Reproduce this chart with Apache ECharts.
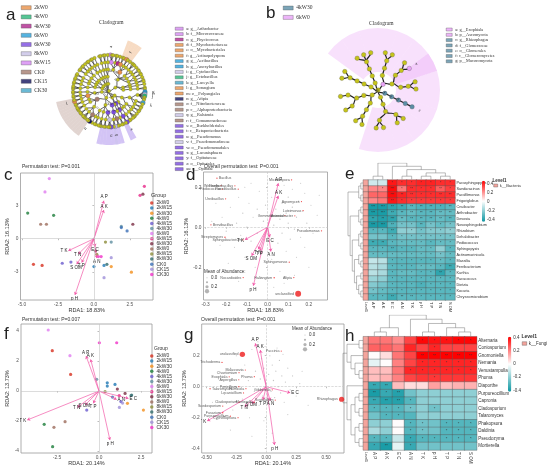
<!DOCTYPE html>
<html>
<head>
<meta charset="utf-8">
<script src="https://cdn.jsdelivr.net/npm/echarts@6/dist/echarts.min.js"></script>
<style>
html, body { margin: 0; padding: 0; background: #fff; }
#main { width: 550px; height: 469px; }
</style>
</head>
<body>
<div id="main"></div>
<script>
var SANS = 'Liberation Sans, Arial, sans-serif';
var SERIF = 'Liberation Serif, DejaVu Serif, serif';

// ---- RDA panels (c, d, f, g) ----
var groups = ['2kW0', '2kW15', '2kW30', '4kW0', '4kW15', '4kW30', '6kW0', '6kW15', '6kW30',
  '8kW0', '8kW15', '8kW30', 'CK0', 'CK15', 'CK30'];
var groupColors = ['#d7301f', '#1f78b4', '#f28e1c', '#1b7d3a', '#6a5acd', '#5f8fa0', '#e07cf0', '#e7298a',
  '#7b2d43', '#9c6b5b', '#8c8c3a', '#2f6b6b', '#3b6fb6', '#9e8fd8', '#f032c8'];

// [group index, RDA1, RDA2]
var sitesC = [
  [0, -4.2, -2.3], [0, -3.6, -2.4], [1, 0.0, -2.5], [1, 0.7, -2.4], [2, 1.2, -2.5], [2, 2.6, -3.0],
  [3, -4.6, 2.3], [3, -2.8, 2.1], [4, -2.2, -2.2], [4, -1.6, -2.1], [5, 1.2, -0.3], [5, 1.9, 1.1],
  [6, -3.1, 5.4], [6, -3.4, 4.2], [7, 3.5, 4.7], [7, 3.2, 3.9], [8, 3.4, 4.0], [8, 2.7, 1.3], [8, 0.1, -1.1],
  [9, -3.7, 1.3], [9, -3.3, 1.3], [10, 0.8, -0.3], [10, 0.2, -1.4], [11, 0.9, -2.3],
  [12, 2.3, 0.7], [12, 1.9, 1.0], [13, 1.2, -1.7], [13, 0.7, -3.5], [14, 0.3, -1.6], [14, 0.5, -1.6]
];
var sitesF = [
  [0, -2.78, 2.69], [0, -1.69, 1.11], [1, 0.49, 0.55], [1, 0.49, 0.33], [1, 0.95, 0.44],
  [2, 1.69, -0.82], [2, 2.64, -1.27], [3, -3.26, -2.22], [3, -2.76, -3.71], [4, -0.73, -1.27], [4, 1.3, -0.7],
  [5, -0.14, 0.78], [5, 1.9, -0.3], [6, -3.02, 4.07], [6, -1.73, 2.36], [7, 1.2, -0.3],
  [8, 1.09, 0.13], [8, 1.55, -0.16], [9, -2.68, -2.42], [9, -2.02, -2.04], [10, 0.36, -0.04],
  [11, 1.94, -0.27], [12, 0.8, -0.4], [13, 1.21, -1.09], [13, 1.4, -0.8], [14, 0.02, 3.22], [14, 1.05, 3.22]
];

var factors = ['A P', 'A K', 'T K', 'T N', 'T P', 'S OM', 'p H', 'E C', 'A N'];
var arrowsC = [[0.69, 3.42], [0.69, 2.58], [-1.78, -1.08], [-1.09, -1.38], [-0.85, -2.13], [-1.2, -2.28], [-1.32, -5.04], [0.07, -0.72], [0.19, -1.74]];
var arrowsD = [[0.052, 0.22], [0.052, 0.157], [-0.11, -0.063], [-0.045, -0.11], [-0.037, -0.118], [-0.077, -0.143], [-0.069, -0.293], [0.011, -0.05], [0.016, -0.122]];
var arrowsF = [[-0.77, 2.33], [-0.5, 2.11], [-4.27, -1.93], [-1.29, -1.09], [-0.34, -0.82], [-0.83, -0.93], [0.65, -3.27], [1.75, -0.49], [1.05, -0.56]];
var arrowsG = [[-0.092, 0.28], [-0.05, 0.237], [-0.494, -0.221], [-0.18, -0.129], [-0.028, -0.086], [-0.12, -0.11], [0.069, -0.376], [0.2, -0.039], [0.033, -0.09]];

// background taxa [RDA1, RDA2, mean abundance]
var otusD = [
  [-0.25, 0.12, 0.01], [-0.22, 0.05, 0.01], [-0.2, -0.02, 0.02], [-0.18, 0.1, 0.01], [-0.16, -0.1, 0.01], [-0.15, 0.02, 0.02],
  [-0.14, 0.15, 0.01], [-0.13, -0.04, 0.01], [-0.12, 0.07, 0.02], [-0.11, -0.15, 0.01], [-0.1, 0.0, 0.03], [-0.09, 0.12, 0.01],
  [-0.08, -0.07, 0.02], [-0.07, 0.05, 0.01], [-0.06, -0.2, 0.01], [-0.05, 0.09, 0.02], [-0.05, -0.03, 0.03], [-0.04, 0.18, 0.01],
  [-0.03, -0.12, 0.02], [-0.02, 0.03, 0.04], [-0.01, 0.11, 0.02], [0, -0.06, 0.03], [0.01, 0.06, 0.02], [0.02, 0.15, 0.01],
  [0.02, -0.16, 0.01], [0.03, 0.01, 0.03], [0.04, 0.09, 0.02], [0.05, -0.08, 0.02], [0.05, 0.19, 0.01], [0.06, 0.04, 0.03],
  [0.07, 0.12, 0.02], [0.07, -0.03, 0.02], [0.08, 0.21, 0.01], [0.09, 0.07, 0.03], [0.09, -0.12, 0.01], [0.1, 0.15, 0.02],
  [0.1, 0.02, 0.02], [0.11, -0.06, 0.02], [0.12, 0.1, 0.03], [0.12, 0.19, 0.01], [0.13, -0.01, 0.02], [0.14, 0.05, 0.02],
  [0.14, -0.15, 0.01], [0.15, 0.13, 0.02], [0.16, -0.05, 0.01], [0.17, 0.08, 0.02], [0.18, 0.17, 0.01], [0.18, -0.1, 0.01],
  [0.19, 0.02, 0.02], [0.21, 0.11, 0.01], [0.22, -0.03, 0.01], [0.24, 0.06, 0.01], [-0.19, -0.18, 0.01], [-0.23, -0.09, 0.01],
  [-0.27, 0.03, 0.01], [0.0, 0.22, 0.01], [-0.03, -0.25, 0.01], [0.06, -0.22, 0.01], [0.13, -0.24, 0.01], [-0.14, -0.27, 0.01],
  [0.2, -0.2, 0.01], [-0.08, 0.22, 0.01], [0.25, 0.16, 0.01], [-0.11, 0.2, 0.01], [0.03, -0.3, 0.01], [0.16, 0.22, 0.01],
  [-0.2, 0.2, 0.01], [0.08, -0.28, 0.01]
];
var otusG = [
  [-0.4, 0.05, 0.01], [-0.35, -0.05, 0.01], [-0.3, 0.12, 0.01], [-0.28, -0.15, 0.01], [-0.25, 0.2, 0.01], [-0.22, 0.0, 0.02],
  [-0.2, -0.08, 0.01], [-0.18, 0.14, 0.01], [-0.15, 0.04, 0.02], [-0.14, -0.2, 0.01], [-0.12, 0.24, 0.01], [-0.1, -0.03, 0.02],
  [-0.09, 0.1, 0.02], [-0.07, 0.29, 0.01], [-0.06, -0.12, 0.01], [-0.05, 0.05, 0.03], [-0.04, 0.18, 0.02], [-0.03, -0.06, 0.02],
  [-0.02, 0.12, 0.02], [-0.01, 0.26, 0.01], [0, 0.02, 0.03], [0.01, -0.1, 0.01], [0.02, 0.08, 0.03], [0.03, 0.2, 0.02],
  [0.04, -0.03, 0.03], [0.05, 0.14, 0.02], [0.06, 0.04, 0.03], [0.07, -0.07, 0.02], [0.08, 0.1, 0.02], [0.09, 0.25, 0.01],
  [0.1, 0.0, 0.02], [0.11, 0.17, 0.02], [0.12, -0.04, 0.02], [0.13, 0.07, 0.02], [0.14, 0.21, 0.01], [0.15, -0.1, 0.01],
  [0.16, 0.03, 0.02], [0.18, 0.12, 0.01], [0.2, -0.02, 0.01], [0.22, 0.07, 0.01], [0.25, -0.06, 0.01], [0.28, 0.02, 0.01],
  [0.3, 0.1, 0.01], [-0.02, -0.22, 0.01], [-0.12, -0.32, 0.01], [0.05, -0.3, 0.01], [-0.3, -0.28, 0.01], [0.18, -0.18, 0.01],
  [-0.45, -0.1, 0.01], [0.35, -0.12, 0.01]
];
// highlighted genera [name, RDA1, RDA2, mean abundance]
var generaD = [
  ['Bacillus', -0.245, 0.245, 0.03], ['Weissella', -0.225, 0.208, 0.02], ['Pediococcus', -0.219, 0.19, 0.02],
  ['Thermobacillus', -0.158, 0.207, 0.02], ['Paenibacillus', -0.142, 0.19, 0.02], ['Ureibacillus', -0.203, 0.142, 0.02],
  ['Microbispora', 0.116, 0.237, 0.03], ['Agromyces', 0.164, 0.128, 0.02], ['Luteimonas', 0.172, 0.083, 0.03],
  ['Gemmatimonas', 0.084, 0.058, 0.02], ['Acinetobacter', 0.132, 0.057, 0.02], ['Pseudomonas', 0.261, -0.018, 0.03],
  ['Brevibacillus', -0.274, 0.012, 0.03], ['Streptomyces', -0.206, -0.05, 0.04], ['Sphingobacterium', -0.118, -0.063, 0.02],
  ['Sphingomonas', 0.105, -0.175, 0.03], ['Nocardioides', -0.118, -0.252, 0.03], ['Haliangium', 0.032, -0.253, 0.04],
  ['Afipia', 0.127, -0.252, 0.03], ['unclassified', 0.148, -0.333, 0.45]
];
var generaG = [
  ['unclassified', -0.2, 0.209, 0.4], ['Trichoderma', -0.37, 0.157, 0.03], ['Malassezia', -0.175, 0.108, 0.02],
  ['Chaetomium', -0.228, 0.091, 0.02], ['Exophiala', -0.31, 0.064, 0.02], ['Aspergillus', -0.23, 0.045, 0.02],
  ['Phoma', -0.1, 0.065, 0.02], ['Talaromyces', -0.47, -0.013, 0.03], ['Penicillium', -0.23, 0.0, 0.02],
  ['Humicola', -0.17, -0.013, 0.02], ['Lecanicillium', -0.19, -0.04, 0.01], ['Puccinia', 0.125, 0.23, 0.02],
  ['Gibberella', 0.05, -0.02, 0.02], ['Scytalidium', 0.075, -0.086, 0.02], ['Rhizophagus', 0.63, -0.081, 0.38],
  ['Scedosporium', -0.364, -0.125, 0.02], ['Fusarium', -0.364, -0.168, 0.04], ['Purpureocillium', -0.3, -0.19, 0.02],
  ['Cladosporium', -0.228, -0.1, 0.02], ['Cyphellophora', -0.236, -0.2, 0.02], ['Mortierella', -0.1, -0.1, 0.02]
];
var abundTicks = ['0.0', '0.1', '0.2', '0.3'];

// ---- correlation heatmaps (e, h) ----
var heatCols = ['A P', 'A K', 'E C', 'A N', 'T K', 'p H', 'T P', 'T N', 'S OM'];
var corrTicks = [-0.4, -0.2, 0, 0.2, 0.4];
var stars = ['', '*', '**', '***'];

var rowsE = ['Parasphingopyxis', 'Sandaracinus', 'Parafilimonas', 'Frigoriglobus', 'Cnuibacter', 'Arthrobacter',
  'Devosia', 'Novosphingobium', 'Rhizobium', 'Dehalobacter', 'Pediococcus', 'Sphingopyxis', 'Actinomarinicola',
  'Massilia', 'Ferribacterium', 'Kurthia', 'Paracoccus', 'Dietzia', 'Kocuria', 'Chryseomicrobium'];
var valuesE = [
  [-0.08, -0.08, 0.42, 0.38, 0.38, 0.4, 0.4, 0.38, 0.38],
  [0.22, 0.22, 0.44, 0.25, 0.38, 0.38, 0.38, 0.3, 0.35],
  [0.28, 0.28, 0.44, 0.4, 0.38, 0.38, 0.38, 0.38, 0.38],
  [0.22, 0.25, 0.42, 0.38, 0.36, 0.36, 0.36, 0.36, 0.36],
  [-0.42, -0.42, -0.38, -0.35, -0.3, -0.32, -0.32, -0.32, -0.3],
  [-0.42, -0.42, -0.35, -0.3, -0.28, -0.3, -0.3, -0.28, -0.28],
  [-0.38, -0.4, -0.38, -0.28, -0.3, -0.3, -0.3, -0.28, -0.3],
  [-0.42, -0.42, -0.32, -0.25, -0.25, -0.3, -0.25, -0.28, -0.25],
  [-0.3, -0.3, -0.35, -0.2, -0.2, -0.25, -0.22, -0.22, -0.2],
  [-0.25, -0.25, -0.3, -0.25, -0.25, -0.25, -0.25, -0.25, -0.25],
  [-0.35, -0.35, -0.3, -0.28, -0.28, -0.28, -0.3, -0.28, -0.28],
  [-0.3, -0.3, -0.32, -0.3, -0.3, -0.28, -0.28, -0.2, -0.3],
  [-0.28, -0.28, -0.28, -0.28, -0.28, -0.28, -0.28, -0.25, -0.28],
  [-0.1, -0.12, -0.3, -0.3, -0.3, -0.3, -0.3, -0.28, -0.3],
  [-0.12, -0.15, -0.3, -0.3, -0.3, -0.28, -0.28, -0.3, -0.35],
  [-0.12, -0.15, -0.3, -0.28, -0.28, -0.3, -0.3, -0.38, -0.3],
  [-0.18, -0.2, -0.3, -0.3, -0.3, -0.3, -0.3, -0.3, -0.3],
  [-0.22, -0.25, -0.3, -0.3, -0.3, -0.32, -0.3, -0.3, -0.3],
  [-0.25, -0.28, -0.3, -0.3, -0.3, -0.3, -0.3, -0.3, -0.3],
  [-0.3, -0.3, -0.35, -0.3, -0.3, -0.3, -0.3, -0.3, -0.3]
];
var sigE = [
  [0, 0, 1, 1, 1, 1, 1, 1, 1], [0, 1, 3, 1, 2, 1, 1, 2, 1], [0, 0, 3, 2, 2, 1, 1, 2, 2], [0, 0, 2, 1, 1, 1, 1, 1, 1],
  [3, 3, 2, 2, 2, 2, 2, 1, 2], [3, 3, 2, 2, 2, 2, 2, 2, 2], [2, 2, 3, 2, 2, 2, 2, 2, 2], [3, 3, 2, 1, 1, 2, 1, 1, 1],
  [1, 1, 2, 0, 1, 1, 1, 1, 1], [0, 0, 1, 1, 1, 1, 1, 1, 1], [2, 2, 1, 1, 1, 1, 1, 1, 1], [1, 1, 2, 1, 1, 1, 1, 0, 1],
  [1, 1, 1, 1, 1, 1, 1, 1, 1], [0, 0, 1, 1, 1, 1, 1, 1, 1], [0, 0, 1, 1, 1, 1, 1, 1, 2], [0, 0, 1, 1, 1, 1, 1, 2, 1],
  [0, 0, 1, 1, 1, 1, 1, 1, 1], [0, 0, 1, 1, 1, 1, 1, 1, 1], [1, 1, 1, 1, 1, 1, 1, 1, 1], [1, 1, 2, 2, 2, 1, 1, 1, 1]
];
var rowsH = ['Alternaria', 'Coniosporium', 'Gnomoniella', 'Nemania', 'Venustampulla', 'Phoma', 'Diaporthe',
  'Purpureocillium', 'Capronia', 'Cladosporium', 'Talaromyces', 'Phakopsora', 'Daldinia', 'Pseudozyma', 'Mortierella'];
var valuesH = [
  [0.22, 0.22, 0.18, 0.3, 0.4, 0.38, 0.38, 0.4, 0.4],
  [0.25, 0.25, 0.22, 0.35, 0.3, 0.35, 0.3, 0.3, 0.3],
  [0.0, 0.05, 0.22, 0.3, 0.45, 0.45, 0.45, 0.45, 0.45],
  [-0.05, 0.0, 0.2, 0.3, 0.35, 0.35, 0.35, 0.35, 0.35],
  [0.1, 0.1, 0.22, 0.35, 0.35, 0.35, 0.35, 0.35, 0.35],
  [0.1, 0.12, 0.2, 0.3, 0.32, 0.32, 0.32, 0.32, 0.32],
  [-0.35, -0.35, 0.1, 0.05, 0.05, 0.15, 0.1, 0.12, 0.12],
  [-0.4, -0.35, -0.38, -0.25, -0.2, -0.2, -0.2, -0.2, -0.2],
  [-0.35, -0.38, -0.38, -0.3, -0.2, -0.2, -0.2, -0.2, -0.2],
  [-0.3, -0.3, -0.3, -0.25, -0.2, -0.25, -0.2, -0.2, -0.2],
  [-0.25, -0.3, -0.3, -0.3, -0.2, -0.2, -0.2, -0.2, -0.2],
  [-0.2, -0.2, 0.0, -0.3, -0.25, -0.25, -0.3, -0.3, -0.3],
  [-0.15, -0.2, 0.0, -0.3, -0.25, -0.25, -0.3, -0.3, -0.3],
  [-0.3, -0.3, -0.1, -0.35, -0.3, -0.3, -0.3, -0.3, -0.3],
  [-0.35, -0.4, -0.05, -0.35, -0.25, -0.25, -0.25, -0.25, -0.25]
];
var sigH = [
  [0, 0, 0, 0, 1, 1, 1, 1, 1], [0, 0, 0, 0, 0, 1, 0, 0, 0], [0, 0, 0, 0, 2, 2, 2, 2, 2], [0, 0, 0, 0, 1, 1, 1, 1, 1],
  [0, 0, 0, 1, 1, 1, 1, 1, 1], [0, 0, 0, 0, 0, 1, 0, 0, 0], [2, 2, 0, 0, 0, 0, 0, 0, 0], [2, 1, 2, 0, 0, 0, 0, 0, 0],
  [2, 2, 2, 1, 0, 0, 0, 0, 0], [1, 1, 1, 1, 0, 1, 0, 0, 0], [0, 1, 1, 0, 0, 0, 0, 0, 0], [0, 0, 0, 1, 1, 0, 1, 1, 1],
  [0, 0, 0, 1, 1, 0, 1, 1, 1], [1, 1, 0, 1, 1, 1, 1, 1, 1], [1, 2, 0, 1, 0, 0, 0, 0, 0]
];
// cluster trees (leaf = row/column index)
var colTreeE = [[0, 1], [2, [[3, 4], [[5, 6], [7, 8]]]]];
var rowTreeE = [[[0, 1], [2, 3]], [[[4, 5], [6, 7]], [[[8, 9], [10, 11]], [[12, [13, 14]], [[15, 16], [17, [18, 19]]]]]]];
var colTreeH = [[[0, 1], 2], [3, [[4, 5], [6, [7, 8]]]]];
var rowTreeH = [[[0, 1], [2, [3, [4, 5]]]], [6, [[[7, 8], [9, 10]], [[11, 12], [13, 14]]]]];

// ---- LEfSe cladograms (a, b) ----
// node: number = n plain genera, 'tag:group' = marked genus, [head, ...children] = clade
var cladeGroupsA = ['2kW0', '4kW0', '4kW30', '6kW0', '6kW30', '8kW0', '8kW15', 'CK0', 'CK15', 'CK30'];
var cladeColorsA = ['#e8914a', '#2cb87a', '#b0288f', '#2aa0d8', '#7a4be0', '#c8c2e6', '#d68af2', '#a57d6f', '#13135e', '#45a7c9'];
var cladeA = [
  ['', ['', ['', ['b:8kW15', 'a:8kW15', 2], ['', 2], ['c:4kW30', 1]],
             ['e:2kW0', ['d:2kW0', 2], ['', 'f:2kW0', 1], ['', 1]],
             ['', ['', 3], ['', 1]], ['', ['', 2]], ['', ['', 2], ['', 1]]],
       ['', ['', ['', 2]], ['', ['', 1]]],
       ['', ['', ['', 2]]]],
  ['', ['', ['', ['', 'g:6kW0', 'h:6kW0', 'i:8kW0', 'j:4kW0', 3], ['', 'k:CK30', 1], ['', 2]],
             ['', ['', 2], ['', 1]]],
       ['', ['', ['', 3]], ['', ['', 2]]]],
  ['', ['aa:6kW30', ['z:6kW30', ['y:6kW30', 'x:6kW30', 1]]],
       ['', ['', ['', 2]]]],
  ['', ['t:6kW30', ['s:6kW30', ['r:CK0', 2], ['', 'q:8kW0', 1]]],
       ['', ['w:6kW30', ['v:8kW0', 'u:6kW30', 2], ['', 2]], ['', ['', 3]], ['', ['', 2], ['', 1]]],
       ['p:CK0', ['', ['o:CK0', 'n:CK15', 2], ['', 3], ['', 2]], ['', ['', 3]], ['', ['', 2]]]],
  ['', ['', ['m:2kW0', ['', 'l:2kW0', 1], ['', 2]], ['', ['', 2]]]],
  ['', ['', ['', ['', 3], ['', 2]], ['', ['', 2]]], ['', ['', ['', 2]]]],
  ['', ['', ['', ['', 2]]], ['', ['', ['', 2], ['', 1]]]],
  ['', ['', ['', ['', 2], ['', 2]]], ['', ['', ['', 1]]]],
  ['', ['', ['', ['', 2]]]],
  ['', ['', ['', ['', 2]], ['', ['', 1]]]]
];
var taxaA = ['a: g__Arthrobacter', 'b: f__Micrococcaceae', 'c: g__Phycicoccus', 'd: f__Mycobacteriaceae',
  'e: o__Mycobacteriales', 'f: g__Actinopolyspora', 'g: g__Aeribacillus', 'h: g__Anoxybacillus', 'i: g__Cytobacillus',
  'j: g__Ectobacillus', 'k: g__Laceyella', 'l: g__Sorangium', 'm: o__Polyangiales', 'n: g__Afipia',
  'o: f__Nitrobacteraceae', 'p: c__Alphaproteobacteria', 'q: g__Ralstonia', 'r: f__Comamonadaceae',
  's: o__Burkholderiales', 't: c__Betaproteobacteria', 'u: g__Pseudomonas', 'v: f__Pseudomonadaceae',
  'w: o__Pseudomonadales', 'x: g__Lacunisphaera', 'y: f__Opitutaceae', 'z: o__Opitutales', 'aa: c__Opitutae'];
var shadeA = ['e', 'aa', 't', 'w', 'q', 'p'];

var cladeGroupsB = ['4kW30', '6kW0'];
var cladeColorsB = ['#5b8ea6', '#e9a3f7'];
var cladeB = [
  ['b:6kW0', ['', ['', ['', 2]]], ['', ['', ['', 1, 'a:6kW0']], ['', ['', 2]]]],
  ['g:4kW30', ['f:4kW30', ['e:4kW30', ['d:4kW30', 'c:4kW30']]]],
  ['', ['', ['', ['', 2], ['', 2]]]],
  ['', ['', ['', ['', 2]]], ['', ['', ['', 1], ['', 1]]]],
  ['', ['', ['', ['', 2]]]],
  ['', ['', ['', ['', 3]]]]
];
var taxaB = ['a: g__Exophiala', 'b: p__Ascomycota', 'c: g__Rhizophagus', 'd: f__Glomeraceae',
  'e: o__Glomerales', 'f: c__Glomeromycetes', 'g: p__Mucoromycota'];
var shadeB = [[0, 10, '6kW0'], [17, 19, '6kW0'], [3, 3, '6kW0']];

// ---------------------------------------------------------------
function buildClade(spec, names, colors) {
  var leaves = [], marks = {};
  function decorate(n, head, first, last) {
    var p = head.split(':');
    marks[p[0]] = {first: first, last: last, group: p[1]};
    n.itemStyle = {color: colors[names.indexOf(p[1])]};
    n.symbolSize = 4.5;
    n.label = {show: true, formatter: p[0]};
    return n;
  }
  function grow(item, path) {
    if (typeof item === 'number') {
      var out = [];
      for (var i = 0; i < item; i++) { leaves.push(path + '.' + i); out.push({name: path + '.' + i}); }
      return out;
    }
    if (typeof item === 'string') {
      leaves.push(path);
      return [decorate({name: path}, item, leaves.length - 1, leaves.length - 1)];
    }
    var first = leaves.length, kids = [];
    for (var j = 1; j < item.length; j++) kids = kids.concat(grow(item[j], path + '-' + j));
    var n = {name: path, children: kids};
    if (item[0]) decorate(n, item[0], first, leaves.length - 1);
    return [n];
  }
  var kids = [];
  spec.forEach(function (ph, k) { kids = kids.concat(grow(ph, 'n' + k)); });
  return {root: {name: 'root', children: kids}, leaves: leaves, marks: marks};
}

function shadeSeries(clade, shades, names, colors, polarIndex) {
  return shades.map(function (s) {
    var r = typeof s === 'string' ? clade.marks[s] : {first: s[0], last: s[1], group: s[2]};
    return {
      type: 'bar', coordinateSystem: 'polar', polarIndex: polarIndex, silent: true, z: 1,
      barCategoryGap: '0%', barGap: '-100%',
      data: clade.leaves.map(function (l, i) { return i >= r.first && i <= r.last ? 1 : '-'; }),
      itemStyle: {color: colors[names.indexOf(r.group)], opacity: 0.33}
    };
  });
}

function dendro(spec) {
  var segs = [];
  function walk(n) {
    if (typeof n === 'number') return [n, 0];
    var a = walk(n[0]), b = walk(n[1]);
    var h = Math.max(a[1], b[1]) + 1;
    segs.push([[a[0], a[1]], [a[0], h], [b[0], h], [b[0], b[1]]]);
    return [(a[0] + b[0]) / 2, h];
  }
  var top = walk(spec);
  return {segs: segs, height: top[1]};
}

function abundSize(a) { return 1 + 11 * a; }

var hidden = {show: false};
function plainAxis(type, gi, extra) {
  var ax = {type: type, gridIndex: gi, axisLine: hidden, axisTick: hidden, axisLabel: hidden, splitLine: hidden};
  for (var k in extra) ax[k] = extra[k];
  return ax;
}
function valAxis(gi, min, max, ticks, fmt, name, gap) {
  return {
    type: 'value', gridIndex: gi, min: min, max: max,
    name: name, nameLocation: 'middle', nameGap: gap,
    nameTextStyle: {fontSize: 5.5, color: '#333', fontFamily: SANS},
    axisLine: hidden, splitLine: hidden,
    axisTick: {show: true, length: 1.5, customValues: ticks, lineStyle: {color: '#777', width: 0.5}},
    axisLabel: {fontSize: 4.8, color: '#555', margin: 2, customValues: ticks, formatter: fmt, fontFamily: SANS}
  };
}
function fixed(n) { return function (v) { return v.toFixed(n); }; }
function plain(v) { return String(v); }

function zeroLines(type) {
  return {silent: true, symbol: 'none', label: hidden, animation: false,
    lineStyle: {color: '#c4c4c4', width: 0.6, type: type},
    data: [{xAxis: 0}, {yAxis: 0}]};
}
function siteSeries(sites, gi) {
  return groups.map(function (g, k) {
    var s = {
      type: 'scatter', name: g, xAxisIndex: gi, yAxisIndex: gi, z: 3, symbolSize: 3.2,
      data: sites.filter(function (p) { return p[0] === k; }).map(function (p) { return [p[1], p[2]]; }),
      itemStyle: {color: groupColors[k]}
    };
    if (k === 0) s.markLine = zeroLines('solid');
    return s;
  });
}
function arrowSeries(arrows, gi) {
  return {
    type: 'lines', coordinateSystem: 'cartesian2d', xAxisIndex: gi, yAxisIndex: gi, z: 4,
    data: arrows.map(function (a, i) { return {name: factors[i], coords: [[0, 0], a]}; }),
    symbol: ['none', 'arrow'], symbolSize: 3,
    lineStyle: {color: '#f25aa8', width: 0.7, opacity: 1},
    label: {show: true, position: 'end', formatter: '{b}', fontSize: 4.5, color: '#222', fontFamily: SANS, distance: 1}
  };
}
function otuSeries(otus, gi) {
  return {
    type: 'scatter', xAxisIndex: gi, yAxisIndex: gi, z: 2, data: otus,
    symbolSize: function (v) { return abundSize(v[2]); },
    itemStyle: {color: 'rgba(120,120,120,0.55)'}, markLine: zeroLines('dashed')
  };
}
function generaSeries(genera, gi, edge) {
  return {
    type: 'scatter', xAxisIndex: gi, yAxisIndex: gi, z: 5,
    data: genera.map(function (g) {
      return {name: g[0], value: [g[1], g[2], g[3]], label: {position: g[1] < edge ? 'right' : 'left'}};
    }),
    symbolSize: function (v) { return abundSize(v[2]); },
    itemStyle: {color: '#ee1c1c'},
    label: {show: true, formatter: '{b}', fontSize: 3.6, color: '#333', distance: 1.2, fontFamily: SANS}
  };
}
function heatData(values, sig) {
  var out = [];
  values.forEach(function (row, r) { row.forEach(function (v, c) { out.push([c, r, v, sig[r][c]]); }); });
  return out;
}
function dendroSeries(d, gi, swap) {
  return {
    type: 'lines', coordinateSystem: 'cartesian2d', xAxisIndex: gi, yAxisIndex: gi, polyline: true, silent: true,
    data: d.segs.map(function (s) {
      return {coords: s.map(function (p) { return swap ? [p[1], p[0]] : p; })};
    }),
    lineStyle: {color: '#777', width: 0.5, opacity: 1}
  };
}

var treeA = buildClade(cladeA, cladeGroupsA, cladeColorsA);
var treeB = buildClade(cladeB, cladeGroupsB, cladeColorsB);
var dColE = dendro(colTreeE), dRowE = dendro(rowTreeE), dColH = dendro(colTreeH), dRowH = dendro(rowTreeH);

// ---------------------------------------------------------------
var grid = [
  {left: 20.5, top: 173, width: 132.5, height: 127},   // 0 c
  {left: 203.5, top: 172, width: 124, height: 128},    // 1 d
  {left: 21, top: 324, width: 131, height: 129},       // 2 f
  {left: 201.7, top: 324, width: 142.3, height: 129},  // 3 g
  {left: 368.3, top: 180, width: 86.7, height: 120},   // 4 e heat
  {left: 368.3, top: 163, width: 86.7, height: 16.5},  // 5 e col tree
  {left: 348, top: 180, width: 15, height: 120},       // 6 e row tree
  {left: 363.3, top: 180, width: 4.6, height: 120},    // 7 e level
  {left: 482, top: 180.7, width: 3, height: 41},       // 8 e bar ticks
  {left: 368.3, top: 336.7, width: 108.4, height: 113.3}, // 9 h heat
  {left: 368.3, top: 315, width: 108.4, height: 21.2}, // 10 h col tree
  {left: 343, top: 336.7, width: 20, height: 113.3},   // 11 h row tree
  {left: 363.3, top: 336.7, width: 4.6, height: 113.3}, // 12 h level
  {left: 508, top: 336.7, width: 3.3, height: 55},     // 13 h bar ticks
  {left: 205, top: 275.5, width: 4, height: 18},       // 14 d size key
  {left: 303, top: 332.7, width: 4, height: 19}        // 15 g size key
];
grid.forEach(function (g, i) {
  g.containLabel = false;
  if (i < 4) { g.show = true; g.borderColor = '#9a9a9a'; g.borderWidth = 0.8; }
});

var heatX = function (gi, fs) {
  return {type: 'category', gridIndex: gi, data: heatCols, axisLine: hidden, axisTick: hidden, splitLine: hidden,
    axisLabel: {fontSize: fs, color: '#333', rotate: -90, margin: 2, interval: 0, fontFamily: SANS}};
};
var heatY = function (gi, rows, fs) {
  return {type: 'category', gridIndex: gi, data: rows, inverse: true, position: 'right',
    axisLine: hidden, axisTick: hidden, splitLine: hidden,
    axisLabel: {fontSize: fs, color: '#333', margin: 1.5, interval: 0, fontFamily: SANS}};
};
var levelX = function (gi) {
  return {type: 'category', gridIndex: gi, data: ['Level1'], axisLine: hidden, axisTick: hidden, splitLine: hidden,
    axisLabel: {fontSize: 3.4, color: '#333', rotate: -90, margin: 2, fontFamily: SANS}};
};
var barTicks = function (gi, min, max) {
  return {type: 'value', gridIndex: gi, min: min, max: max, position: 'right', axisLine: hidden, splitLine: hidden,
    axisTick: hidden,
    axisLabel: {fontSize: 4.5, color: '#333', margin: 2, customValues: corrTicks, fontFamily: SANS,
      formatter: function (v) { return v === 0 ? '0' : v.toFixed(1); }}};
};

var xAxis = [
  valAxis(0, -5.1, 4.1, [-5, -2.5, 0, 2.5], fixed(1), 'RDA1: 18.83%', 5),
  valAxis(1, -0.31, 0.29, [-0.3, -0.2, -0.1, 0, 0.1, 0.2], fixed(1), 'RDA1: 18.83%', 5),
  valAxis(2, -4.64, 3.15, [-2.5, 0, 2.5], fixed(1), 'RDA1: 20.14%', 5),
  valAxis(3, -0.54, 0.65, [-0.5, -0.25, 0, 0.25, 0.5], fixed(2), 'RDA1: 20.14%', 5),
  heatX(4, 4),
  plainAxis('value', 5, {min: -0.5, max: heatCols.length - 0.5}),
  plainAxis('value', 6, {min: 0, max: dRowE.height, inverse: true}),
  levelX(7),
  plainAxis('value', 8, {min: 0, max: 1}),
  heatX(9, 4.5),
  plainAxis('value', 10, {min: -0.5, max: heatCols.length - 0.5}),
  plainAxis('value', 11, {min: 0, max: dRowH.height, inverse: true}),
  levelX(12),
  plainAxis('value', 13, {min: 0, max: 1}),
  plainAxis('value', 14, {min: -1, max: 1}),
  plainAxis('value', 15, {min: -1, max: 1})
];
var sizeKeyY = function (gi) {
  return {type: 'category', gridIndex: gi, data: abundTicks, inverse: true, position: 'right',
    axisLine: hidden, axisTick: hidden, splitLine: hidden,
    axisLabel: {fontSize: 4.5, color: '#333', margin: 2, fontFamily: SANS}};
};
var yAxis = [
  valAxis(0, -5.5, 5.9, [-3, 0, 3], plain, 'RDA2: 16.13%', 8),
  valAxis(1, -0.364, 0.276, [-0.2, 0, 0.2], fixed(1), 'RDA2: 16.13%', 9),
  valAxis(2, -4.13, 4.47, [-4, -2, 0, 2, 4], plain, 'RDA2: 13.73%', 8),
  valAxis(3, -0.428, 0.405, [-0.4, -0.2, 0, 0.2], fixed(1), 'RDA2: 13.73%', 9),
  heatY(4, rowsE, 3.8),
  plainAxis('value', 5, {min: 0, max: dColE.height}),
  plainAxis('value', 6, {min: -0.5, max: rowsE.length - 0.5, inverse: true}),
  plainAxis('category', 7, {data: rowsE, inverse: true}),
  barTicks(8, -0.44, 0.46),
  heatY(9, rowsH, 4.5),
  plainAxis('value', 10, {min: 0, max: dColH.height}),
  plainAxis('value', 11, {min: -0.5, max: rowsH.length - 0.5, inverse: true}),
  plainAxis('category', 12, {data: rowsH, inverse: true}),
  barTicks(13, -0.42, 0.41),
  sizeKeyY(14),
  sizeKeyY(15)
];

var heatLabel = function (fs) {
  return {show: true, fontSize: fs, color: '#333', fontFamily: SANS,
    formatter: function (p) { return stars[p.value[3]]; }};
};
var cellStyle = {borderColor: '#555', borderWidth: 0.4};

var series = [];
series = series.concat(siteSeries(sitesC, 0));
series.push(arrowSeries(arrowsC, 0));
series.push(otuSeries(otusD, 1));
series.push(arrowSeries(arrowsD, 1));
series.push(generaSeries(generaD, 1, -0.24));
series = series.concat(siteSeries(sitesF, 2));
series.push(arrowSeries(arrowsF, 2));
series.push(otuSeries(otusG, 3));
series.push(arrowSeries(arrowsG, 3));
series.push(generaSeries(generaG, 3, -0.42));

var heatEIndex = series.length;
series.push({type: 'heatmap', xAxisIndex: 4, yAxisIndex: 4, data: heatData(valuesE, sigE),
  itemStyle: cellStyle, label: heatLabel(3.4)});
series.push(dendroSeries(dColE, 5, false));
series.push(dendroSeries(dRowE, 6, true));
series.push({type: 'heatmap', name: 'k__Bacteria', xAxisIndex: 7, yAxisIndex: 7,
  data: rowsE.map(function (r, i) { return [0, i, 1]; }), itemStyle: {color: '#f4a49c', borderColor: '#555', borderWidth: 0.4}});
series.push({type: 'scatter', xAxisIndex: 8, yAxisIndex: 8, data: []});

var heatHIndex = series.length;
series.push({type: 'heatmap', xAxisIndex: 9, yAxisIndex: 9, data: heatData(valuesH, sigH),
  itemStyle: cellStyle, label: heatLabel(4)});
series.push(dendroSeries(dColH, 10, false));
series.push(dendroSeries(dRowH, 11, true));
series.push({type: 'heatmap', name: 'k__Fungi', xAxisIndex: 12, yAxisIndex: 12,
  data: rowsH.map(function (r, i) { return [0, i, 1]; }), itemStyle: {color: '#f4a49c', borderColor: '#555', borderWidth: 0.4}});
series.push({type: 'scatter', xAxisIndex: 13, yAxisIndex: 13, data: []});

[14, 15].forEach(function (gi) {
  series.push({type: 'scatter', xAxisIndex: gi, yAxisIndex: gi, silent: true,
    data: abundTicks.map(function (t, i) { return [0, i, parseFloat(t)]; }),
    symbolSize: function (v) { return abundSize(v[2]); },
    itemStyle: {color: 'rgba(120,120,120,0.7)'}});
});

// cladograms
series = series.concat(shadeSeries(treeA, shadeA, cladeGroupsA, cladeColorsA, 0));
series = series.concat(shadeSeries(treeB, shadeB, cladeGroupsB, cladeColorsB, 1));
var treeBase = {
  type: 'tree', layout: 'radial', symbol: 'circle', roam: false, expandAndCollapse: false,
  initialTreeDepth: -1, animation: false, z: 3,
  label: {show: false, fontSize: 4.5, color: '#333', fontFamily: SERIF},
  leaves: {label: {show: false, fontSize: 4.5, color: '#333', fontFamily: SERIF}},
  emphasis: {disabled: true}
};
function treeSeries(tree, box, size, edge) {
  var s = {};
  for (var k in treeBase) s[k] = treeBase[k];
  s.left = box[0]; s.top = box[1]; s.width = box[2]; s.height = box[2];
  s.data = [tree.root];
  s.symbolSize = size;
  s.itemStyle = {color: '#c5c41a', borderColor: '#555', borderWidth: 0.3};
  s.lineStyle = {color: '#222', width: edge, curveness: 0.5};
  return s;
}
series.push(treeSeries(treeA, [73, 55, 72], 3.4, 0.7));
series.push(treeSeries(treeB, [340, 52, 76], 4.5, 1.2));

// legend carriers for the cladogram keys
function keySeries(prefix, names, colorFor, polarIndex) {
  return names.map(function (n, i) {
    return {type: 'scatter', coordinateSystem: 'polar', polarIndex: polarIndex, name: prefix + '|' + n, data: [],
      itemStyle: {color: colorFor(n, i)}};
  });
}
function tagColor(tree, names, colors) {
  return function (n) { var t = n.split(':')[0]; return colors[names.indexOf(tree.marks[t].group)]; };
}
series = series.concat(keySeries('A', cladeGroupsA, function (n, i) { return cladeColorsA[i]; }, 0));
series = series.concat(keySeries('TA', taxaA, tagColor(treeA, cladeGroupsA, cladeColorsA), 0));
series = series.concat(keySeries('B', cladeGroupsB, function (n, i) { return cladeColorsB[i]; }, 1));
series = series.concat(keySeries('TB', taxaB, tagColor(treeB, cladeGroupsB, cladeColorsB), 1));

function prefixed(p, names) { return names.map(function (n) { return p + '|' + n; }); }
function strip(n) { return n.split('|')[1]; }
function keyLegend(data, left, top, w, h, gap, fs) {
  return {data: data, left: left, top: top, orient: 'vertical', icon: 'rect', itemWidth: w, itemHeight: h,
    itemGap: gap, padding: 0, selectedMode: false, formatter: strip, itemStyle: {borderColor: '#444', borderWidth: 0.4},
    textStyle: {fontSize: fs, lineHeight: h, color: '#333', fontFamily: SERIF, padding: [0, 0, 0, -2]}};
}
function groupLegend(top) {
  return {data: groups, left: 150, top: top, orient: 'vertical', icon: 'circle', itemWidth: 3.5, itemHeight: 3.5,
    itemGap: 0.1, padding: 0, selectedMode: false,
    textStyle: {fontSize: 5, lineHeight: 5, color: '#333', fontFamily: SANS, padding: [0, 0, 0, -2]}};
}
var legend = [
  keyLegend(prefixed('A', cladeGroupsA), 21, 4.7, 10, 4, 3.2, 5.5),
  keyLegend(prefixed('TA', taxaA), 175, 26.7, 8, 3, 1.4, 4.3),
  keyLegend(prefixed('B', cladeGroupsB), 283, 5, 10, 4, 3.4, 5.5),
  keyLegend(prefixed('TB', taxaB), 446, 27.5, 6, 3, 1.3, 4.3),
  groupLegend(200.5),
  groupLegend(353.5),
  {data: ['k__Bacteria'], left: 493.5, top: 183.5, icon: 'rect', itemWidth: 4, itemHeight: 3, padding: 0,
    selectedMode: false, itemStyle: {borderColor: '#555', borderWidth: 0.4},
    textStyle: {fontSize: 4, color: '#333', fontFamily: SANS, padding: [0, 0, 0, -3]}},
  {data: ['k__Fungi'], left: 522, top: 341, icon: 'rect', itemWidth: 4.5, itemHeight: 3.5, padding: 0,
    selectedMode: false, itemStyle: {borderColor: '#555', borderWidth: 0.4},
    textStyle: {fontSize: 4.5, color: '#333', fontFamily: SANS, padding: [0, 0, 0, -3]}}
];

function label(text, left, top, fs, extra) {
  var ts = {fontSize: fs, fontWeight: 'normal', color: '#222', fontFamily: SANS};
  for (var k in extra) ts[k] = extra[k];
  return {text: text, left: left, top: top, padding: 0, textStyle: ts};
}
var title = [
  label('a', 6, 7, 17), label('b', 266, 5, 17), label('c', 4, 167, 17), label('d', 186, 167, 17),
  label('e', 345, 166, 17), label('f', 4, 326, 17), label('g', 184, 327, 17), label('h', 345, 328, 17),
  label('Cladogram', 99, 20, 5.5, {fontFamily: SERIF, color: '#333'}),
  label('Cladogram', 369, 21, 5.5, {fontFamily: SERIF, color: '#333'}),
  label('Permutation test: P=0.001', 22, 164, 5, {color: '#333'}),
  label('Overall permutation test: P=0.001', 204, 164, 5, {color: '#333'}),
  label('Permutation test: P=0.007', 22, 317, 5, {color: '#333'}),
  label('Overall permutation test: P=0.001', 201, 317, 5, {color: '#333'}),
  label('Group', 151, 192.5, 5.5, {color: '#333'}),
  label('Group', 154, 346, 5, {color: '#333'}),
  label('Mean of Abundance:', 204, 269.5, 4.5, {color: '#333'}),
  label('Mean of Abundance', 292, 326, 4.5, {color: '#333'}),
  label('Level1', 492.5, 178.3, 4.5, {fontWeight: 'bold', color: '#333'}),
  label('Level1', 521.5, 334.5, 5, {fontWeight: 'bold', color: '#333'})
];

var polarAxisOff = {axisLine: hidden, axisTick: hidden, axisLabel: hidden, splitLine: hidden, splitArea: hidden};
function angleAx(pi, leaves) {
  var a = {polarIndex: pi, type: 'category', data: leaves, startAngle: 90, clockwise: true, boundaryGap: true};
  for (var k in polarAxisOff) a[k] = polarAxisOff[k];
  return a;
}
function radiusAx(pi) {
  var a = {polarIndex: pi, type: 'value', min: 0, max: 1};
  for (var k in polarAxisOff) a[k] = polarAxisOff[k];
  return a;
}
var corrColors = ['#0e98a3', '#ffffff', '#ff0000'];

var option = {
  animation: false,
  backgroundColor: '#fff',
  textStyle: {fontFamily: SANS},
  title: title,
  legend: legend,
  grid: grid,
  xAxis: xAxis,
  yAxis: yAxis,
  polar: [{center: [109, 91], radius: [34, 54]}, {center: [378, 90], radius: [18, 62]}],
  angleAxis: [angleAx(0, treeA.leaves), angleAx(1, treeB.leaves)],
  radiusAxis: [radiusAx(0), radiusAx(1)],
  visualMap: [
    {type: 'continuous', seriesIndex: heatEIndex, dimension: 2, min: -0.44, max: 0.46, left: 482, top: 180.7,
      itemWidth: 3, itemHeight: 41, padding: 0, calculable: false, text: null, inRange: {color: corrColors}},
    {type: 'continuous', seriesIndex: heatHIndex, dimension: 2, min: -0.42, max: 0.41, left: 508, top: 336.7,
      itemWidth: 3.3, itemHeight: 55, padding: 0, calculable: false, text: null, inRange: {color: corrColors}}
  ],
  series: series
};

var chart = echarts.init(document.getElementById('main'));
chart.setOption(option);
</script>
</body>
</html>
